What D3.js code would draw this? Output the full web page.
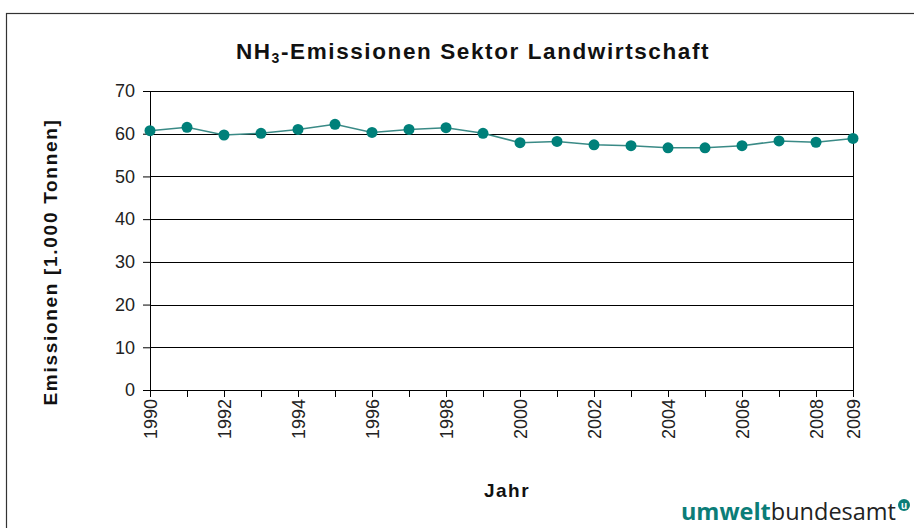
<!DOCTYPE html>
<html>
<head>
<meta charset="utf-8">
<script src="https://cdn.jsdelivr.net/npm/d3@7"></script>
<style>
	body { margin: 0; background: #fff; }
	svg { display: block; font-family: 'Liberation Sans', Arial, sans-serif; }
</style>
</head>
<body>
<div id="chart"></div>
<script>
// NOTE data
var years = [1990, 1991, 1992, 1993, 1994, 1995, 1996, 1997, 1998, 1999,
	2000, 2001, 2002, 2003, 2004, 2005, 2006, 2007, 2008, 2009];
var emissions = [60.7, 61.5, 59.7, 60.1, 61.0, 62.2, 60.3, 61.0, 61.4, 60.1,
	57.9, 58.2, 57.4, 57.2, 56.7, 56.7, 57.2, 58.3, 58.0, 58.9];
var yTicks = [0, 10, 20, 30, 40, 50, 60, 70];
var xLabels = [1990, 1992, 1994, 1996, 1998, 2000, 2002, 2004, 2006, 2008, 2009];

var W = 914, H = 528;
var margin = { top: 91, left: 150, right: 61, bottom: 138 };
var width = W - margin.left - margin.right,
	height = H - margin.top - margin.bottom;

var svg = d3.select('#chart').append('svg')
	.attr('width', W)
	.attr('height', H);

// outer frame
svg.append('rect')
	.attr('x', 6.5).attr('y', 13.5)
	.attr('width', 940).attr('height', 540)
	.attr('fill', 'none').attr('stroke', '#333').attr('stroke-width', 1.2);

var g = svg.append('g')
	.attr('transform', 'translate(' + margin.left + ',' + margin.top + ')');

var x = d3.scaleLinear().domain([1990, 2009]).range([0, width]);
var y = d3.scaleLinear().domain([0, 70]).range([height, 0]);

// gridlines
g.selectAll('.grid').data(yTicks).enter().append('line')
	.attr('class', 'grid')
	.attr('x1', 0).attr('x2', width)
	.attr('y1', function (d) { return Math.round(y(d)) + 0.5; })
	.attr('y2', function (d) { return Math.round(y(d)) + 0.5; })
	.attr('stroke', '#000').attr('stroke-width', 1);

// right edge of plot
g.append('line')
	.attr('x1', width + 0.5).attr('x2', width + 0.5)
	.attr('y1', 0).attr('y2', height)
	.attr('stroke', '#000');

// y axis
var yAxis = d3.axisLeft(y).tickValues(yTicks).tickSize(7).tickPadding(8);
var ya = g.append('g').call(yAxis);
ya.select('.domain').attr('stroke', '#000');
ya.selectAll('text')
	.attr('font-size', 18).attr('fill', '#222');

// x axis
var xAxis = d3.axisBottom(x).tickValues(years).tickSize(7).tickFormat(function (d) {
	return xLabels.indexOf(d) >= 0 ? d : '';
});
var xa = g.append('g').attr('transform', 'translate(0,' + height + ')').call(xAxis);
xa.select('.domain').attr('stroke', '#000');
xa.selectAll('text')
	.attr('font-size', 18).attr('fill', '#222')
	.attr('text-anchor', 'end')
	.attr('dy', null)
	.attr('transform', 'rotate(-90)')
	.attr('x', -9).attr('y', 0)
	.attr('dominant-baseline', 'central');

// line + dots
var line = d3.line()
	.x(function (d, i) { return x(years[i]); })
	.y(function (d) { return y(d); });

g.append('path')
	.datum(emissions)
	.attr('d', line)
	.attr('fill', 'none')
	.attr('stroke', '#3a8a86')
	.attr('stroke-width', 1.5);

g.selectAll('.dot').data(emissions).enter().append('circle')
	.attr('class', 'dot')
	.attr('cx', function (d, i) { return x(years[i]); })
	.attr('cy', function (d) { return y(d); })
	.attr('r', 5.5)
	.attr('fill', '#00807a');

// title
var title = svg.append('text')
	.attr('x', 473).attr('y', 59)
	.attr('text-anchor', 'middle')
	.attr('font-size', 22.5).attr('font-weight', 'bold').attr('fill', '#111')
	.attr('letter-spacing', 1.6);
title.append('tspan').text('NH');
title.append('tspan').text('3').attr('font-size', 14).attr('dy', 4);
title.append('tspan').text('-Emissionen Sektor Landwirtschaft').attr('dy', -4);

// axis titles
svg.append('text')
	.attr('transform', 'translate(57,262) rotate(-90)')
	.attr('text-anchor', 'middle')
	.attr('font-size', 19).attr('font-weight', 'bold').attr('fill', '#111')
	.attr('letter-spacing', 1.7)
	.text('Emissionen [1.000 Tonnen]');

svg.append('text')
	.attr('x', 507).attr('y', 497)
	.attr('text-anchor', 'middle')
	.attr('font-size', 19).attr('font-weight', 'bold').attr('fill', '#111')
	.attr('letter-spacing', 1.5)
	.text('Jahr');

// logo
var logo = svg.append('text')
	.attr('x', 896).attr('y', 520)
	.attr('text-anchor', 'end')
	.attr('font-family', "'Open Sans', 'Noto Sans', sans-serif")
	.attr('font-size', 23.5);
logo.append('tspan').text('umwelt').attr('font-weight', 'bold').attr('fill', '#0b7d78');
logo.append('tspan').text('bundesamt').attr('fill', '#222');

svg.append('circle').attr('cx', 904).attr('cy', 505).attr('r', 6)
	.attr('fill', '#0b7d78');
svg.append('text').attr('x', 904).attr('y', 509)
	.attr('text-anchor', 'middle').attr('font-size', 10).attr('font-weight', 'bold')
	.attr('fill', '#fff').text('u');
</script>
</body>
</html>
